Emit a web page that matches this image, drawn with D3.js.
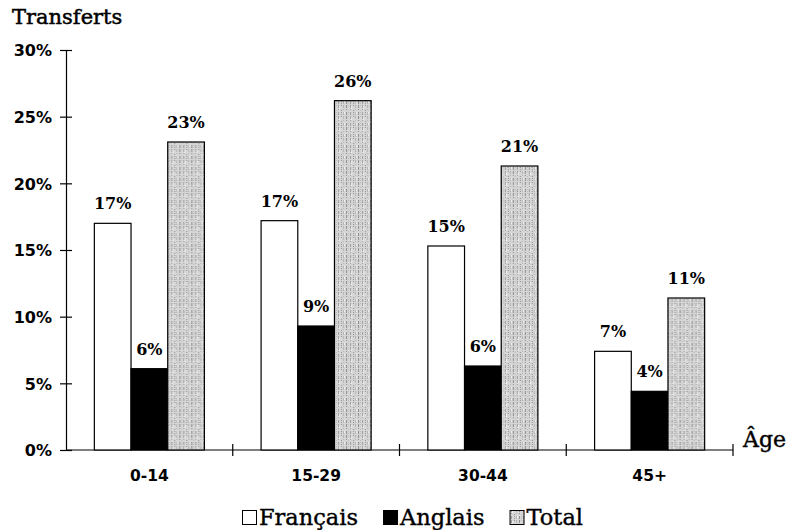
<!DOCTYPE html>
<html>
<head>
<meta charset="utf-8">
<script src="https://cdn.jsdelivr.net/npm/d3@7"></script>
<style>
  body { margin: 0; background: #fff; }
  svg { display: block; }
</style>
</head>
<body>
<div id="chart"></div>
<script>
// Transferts linguistiques par groupe d'âge
const ageGroups = ['0-14', '15-29', '30-44', '45+'];
const francais = [17.0, 17.2, 15.3, 7.4];
const anglais = [6.1, 9.3, 6.3, 4.4];
const total = [23.1, 26.2, 21.3, 11.4];
const yTicks = [0, 5, 10, 15, 20, 25, 30];
const seriesNames = ['Français', 'Anglais', 'Total'];

const W = 787, H = 530;
const svg = d3.select('#chart').append('svg').attr('width', W).attr('height', H);

// texture for the "Total" bars
const pat = svg.append('defs').append('pattern')
  .attr('id', 'grain')
  .attr('patternUnits', 'userSpaceOnUse')
  .attr('width', 12).attr('height', 11);
pat.append('rect').attr('width', 12).attr('height', 11).attr('fill', '#d6d6d6');
[[1, '#8e8e8e'], [3, '#bdbdbd'], [5, '#a0a0a0'], [8, '#939393'], [10, '#b5b5b5']].forEach(([x, c], i) => {
  pat.append('line')
    .attr('x1', x + 0.5).attr('x2', x + 0.5)
    .attr('y1', i % 2 ? 0 : 2).attr('y2', i % 2 ? 7 : 11)
    .attr('stroke', c).attr('stroke-width', 1)
    .attr('stroke-dasharray', i % 2 ? '1,1' : '3,1');
});
pat.append('rect').attr('x', 6).attr('y', 7).attr('width', 1).attr('height', 3).attr('fill', '#efefef');
pat.append('rect').attr('x', 11).attr('y', 2).attr('width', 1).attr('height', 2).attr('fill', '#f2f2f2');

const x0 = d3.scaleBand().domain(ageGroups).range([66, 733]).paddingInner(0.34).paddingOuter(0.17);
const x1 = d3.scaleBand().domain(seriesNames).range([0, x0.bandwidth()]);
const y = d3.scaleLinear().domain([0, 30]).range([450, 50]);

const sansB = '"DejaVu Sans", sans-serif';
const serif = '"DejaVu Serif", serif';

// y axis
const yAxis = svg.append('g').attr('transform', 'translate(66,0)')
  .call(d3.axisLeft(y).tickValues(yTicks).tickFormat(d => d + '%').tickSizeInner(6).tickSizeOuter(0));
yAxis.select('.domain').attr('stroke', '#000').attr('stroke-width', 1.2);
yAxis.selectAll('.tick line').attr('x1', -6).attr('x2', 6).attr('stroke', '#000').attr('stroke-width', 1.2);
yAxis.selectAll('.tick text').attr('x', -14).attr('dy', '0.36em')
  .attr('font-family', sansB).attr('font-weight', 'bold').attr('font-size', 16).attr('fill', '#000');

// x axis
const xAxis = svg.append('g').attr('transform', 'translate(0,450)')
  .call(d3.axisBottom(x0).tickSize(0));
xAxis.select('.domain').attr('d', 'M66,0H733').attr('stroke', '#000').attr('stroke-width', 1.2);
xAxis.selectAll('.tick text').attr('dy', 0).attr('y', 31)
  .attr('font-family', sansB).attr('font-weight', 'bold').attr('font-size', 15.5).attr('fill', '#000');
// separators between groups
const seps = ageGroups.map((g, i) => x0(g) + x0.bandwidth() + x0.step() * x0.paddingInner() / 2 + (i === ageGroups.length - 1 ? x0.step() * (x0.paddingOuter() - x0.paddingInner() / 2) : 0));
xAxis.selectAll('.sep').data(seps).join('line').attr('class', 'sep')
  .attr('x1', d => d).attr('x2', d => d).attr('y1', -6).attr('y2', 6)
  .attr('stroke', '#000').attr('stroke-width', 1.2);

// bars
const rows = ageGroups.map((g, i) => ({
  g,
  vals: [
    { s: 'Français', v: francais[i] },
    { s: 'Anglais', v: anglais[i] },
    { s: 'Total', v: total[i] }
  ]
}));
const fills = { 'Français': '#fff', 'Anglais': '#000', 'Total': 'url(#grain)' };

const grp = svg.append('g').selectAll('g').data(rows).join('g')
  .attr('transform', d => `translate(${x0(d.g)},0)`);

grp.selectAll('rect').data(d => d.vals).join('rect')
  .attr('x', d => x1(d.s))
  .attr('y', d => y(d.v))
  .attr('width', x1.bandwidth())
  .attr('height', d => y(0) - y(d.v))
  .attr('fill', d => fills[d.s])
  .attr('stroke', '#000')
  .attr('stroke-width', 1.2);

grp.selectAll('text').data(d => d.vals).join('text')
  .attr('x', d => x1(d.s) + x1.bandwidth() / 2)
  .attr('y', d => y(d.v) - 14)
  .attr('text-anchor', 'middle')
  .attr('font-family', serif).attr('font-weight', 'bold').attr('font-size', 16)
  .text(d => Math.round(d.v) + '%');

// titles (slight stroke to mimic the heavier print)
svg.append('text').attr('x', 12).attr('y', 24)
  .attr('font-family', serif).attr('font-size', 21)
  .attr('stroke', '#000').attr('stroke-width', 0.5)
  .text('Transferts');
svg.append('text').attr('x', 743).attr('y', 447)
  .attr('font-family', serif).attr('font-size', 22)
  .attr('stroke', '#000').attr('stroke-width', 0.4)
  .text('Âge');

// legend
const legend = svg.append('g').attr('transform', 'translate(242,525)');
let lx = 0;
seriesNames.forEach(s => {
  legend.append('rect').attr('x', lx + 0.5).attr('y', -14.5).attr('width', 14).attr('height', 14)
    .attr('fill', fills[s]).attr('stroke', '#000').attr('stroke-width', 1);
  const t = legend.append('text').attr('x', lx + 17).attr('y', 0)
    .attr('font-family', serif).attr('font-size', 22.5)
    .attr('stroke', '#000').attr('stroke-width', 0.4)
    .text(s);
  lx += 17 + t.node().getComputedTextLength() + 25;
});
</script>
</body>
</html>
